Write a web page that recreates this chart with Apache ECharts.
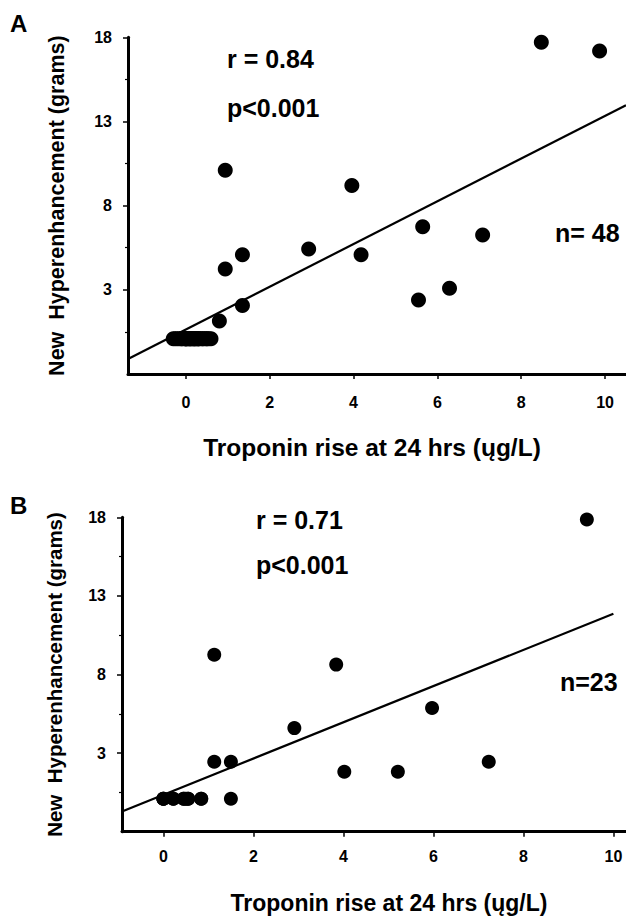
<!DOCTYPE html>
<html>
<head>
<meta charset="utf-8">
<script src="https://cdn.jsdelivr.net/npm/echarts@6/dist/echarts.min.js"></script>
<style>
  html, body { margin: 0; padding: 0; background: #fff; }
  #chart { width: 626px; height: 920px; }
</style>
</head>
<body>
<div id="chart"></div>
<script>
// ---- Data ----
// Panel A (n = 48): troponin rise (ug/L) vs new hyperenhancement (grams)
const troponinA = [8.48, 9.87, 0.94, 3.96, 5.65, 7.08, 2.93, 1.35, 4.18, 0.94, 6.29, 5.55, 1.35, 0.80,
  -0.30, -0.25, -0.20, -0.15, -0.10, -0.05, 0.00, 0.00, 0.00, 0.05, 0.10, 0.10, 0.15, 0.20, 0.20, 0.25, 0.30,
  0.30, 0.35, 0.40, 0.40, 0.45, 0.50, 0.50, 0.55, 0.60, 0.00, 0.10, 0.20, 0.30, -0.10, 0.05, 0.15, 0.25];
const hyperA = [17.70, 17.18, 10.10, 9.20, 6.75, 6.25, 5.42, 5.08, 5.08, 4.23, 3.10, 2.40, 2.07, 1.15,
  0.1, 0.1, 0.1, 0.1, 0.1, 0.1, 0.1, 0.1, 0.1, 0.1, 0.1, 0.1, 0.1, 0.1, 0.1, 0.1, 0.1,
  0.1, 0.1, 0.1, 0.1, 0.1, 0.1, 0.1, 0.1, 0.1, 0.1, 0.1, 0.1, 0.1, 0.1, 0.1, 0.1, 0.1];
const fitAx = [-1.38, 10.5];
const fitAy = [-1.11, 13.97];

// Panel B (n = 23)
const troponinB = [9.41, 1.13, 3.84, 5.97, 2.91, 1.13, 1.50, 7.23, 4.02, 5.21, 1.50,
  0.00, 0.22, 0.45, 0.55, 0.84, 0.00, 0.22, 0.45, 0.55, 0.84, 0.00, 0.50];
const hyperB = [17.86, 9.26, 8.63, 5.87, 4.59, 2.45, 2.45, 2.45, 1.81, 1.81, 0.10,
  0.10, 0.10, 0.10, 0.10, 0.10, 0.10, 0.10, 0.10, 0.10, 0.10, 0.10, 0.10];
const fitBx = [-0.92, 10.0];
const fitBy = [-0.71, 11.87];

// Tick labels
const xTickValues = [0, 2, 4, 6, 8, 10];
const yTickValues = [3, 8, 13, 18];
const yMinorTickValues = [0.5, 5.5, 10.5, 15.5];

const xTitle = 'Troponin rise at 24 hrs (ųg/L)';
const yTitle = 'New  Hyperenhancement (grams)';
const statsA = ['r = 0.84', 'p<0.001', 'n= 48'];
const statsB = ['r = 0.71', 'p<0.001', 'n=23'];

// ---- Chart ----
const FONT = '"Liberation Sans", Arial, Helvetica, sans-serif';
const zip = (xs, ys) => xs.map((x, i) => [x, ys[i]]);

function xAxisFor(gridIndex, min, max, labelMargin, nameGap, nameFont, namePad) {
  return {
    type: 'value', gridIndex, min, max,
    splitLine: { show: false },
    axisLine: { show: true, onZero: false, lineStyle: { color: '#000', width: 3 } },
    axisTick: { show: true, customValues: xTickValues, length: 5, lineStyle: { color: '#000', width: 1.5 } },
    axisLabel: { show: true, customValues: xTickValues, margin: labelMargin, color: '#000',
      fontFamily: FONT, fontWeight: 'bold', fontSize: 16 },
    name: xTitle, nameLocation: 'middle', nameGap,
    nameTextStyle: { color: '#000', fontFamily: FONT, fontWeight: 'bold', fontSize: nameFont, padding: namePad }
  };
}
function yAxisMain(gridIndex, nameGap, nameFont) {
  return {
    type: 'value', gridIndex, min: -2, max: 18, position: 'left',
    splitLine: { show: false },
    axisLine: { show: true, onZero: false, lineStyle: { color: '#000', width: 3 } },
    axisTick: { show: true, customValues: yTickValues, length: 5, lineStyle: { color: '#000', width: 1.5 } },
    axisLabel: { show: true, customValues: yTickValues, margin: 16, color: '#000',
      fontFamily: FONT, fontWeight: 'bold', fontSize: 16 },
    name: yTitle, nameLocation: 'middle', nameGap,
    nameTextStyle: { color: '#000', fontFamily: FONT, fontWeight: 'bold', fontSize: nameFont }
  };
}
function yAxisMinor(gridIndex) {
  return {
    type: 'value', gridIndex, min: -2, max: 18, position: 'left', offset: 0,
    splitLine: { show: false },
    axisLine: { show: false, onZero: false },
    axisTick: { show: true, customValues: yMinorTickValues, length: 3, lineStyle: { color: '#000', width: 1.2 } },
    axisLabel: { show: false }
  };
}
function statText(x, y, text) {
  return { type: 'text', x, y, style: { text, fill: '#000', font: 'bold 25px ' + FONT,
    textAlign: 'left', textVerticalAlign: 'middle' } };
}
function letter(x, y, text) {
  return { type: 'text', x, y, style: { text, fill: '#000', font: 'bold 24px ' + FONT,
    textAlign: 'left', textVerticalAlign: 'middle' } };
}

const chart = echarts.init(document.getElementById('chart'), null, { renderer: 'svg' });
chart.setOption({
  backgroundColor: '#fff',
  animation: false,
  grid: [
    { left: 128, top: 37.3, width: 498, height: 336.7, outerBoundsMode: 'none' },
    { left: 122, top: 517.3, width: 504, height: 314.4, outerBoundsMode: 'none' }
  ],
  xAxis: [
    xAxisFor(0, -1.38, 10.5, 20, 61, 24.5, [0, 10, 0, 0]),
    xAxisFor(1, -0.92, 10.28, 17, 60, 23, [0, 0, 0, 30])
  ],
  yAxis: [
    yAxisMain(0, 60, 21.5),
    yAxisMinor(0),
    yAxisMain(1, 57, 20.5),
    yAxisMinor(1)
  ],
  series: [
    { type: 'scatter', xAxisIndex: 0, yAxisIndex: 0, data: zip(troponinA, hyperA),
      symbol: 'circle', symbolSize: 15, itemStyle: { color: '#000', opacity: 1 }, z: 3 },
    { type: 'line', xAxisIndex: 0, yAxisIndex: 0, data: zip(fitAx, fitAy), symbol: 'none',
      lineStyle: { color: '#000', width: 2.2 }, z: 2 },
    { type: 'scatter', xAxisIndex: 1, yAxisIndex: 2, data: zip(troponinB, hyperB),
      symbol: 'circle', symbolSize: 14, itemStyle: { color: '#000', opacity: 1 }, z: 3 },
    { type: 'line', xAxisIndex: 1, yAxisIndex: 2, data: zip(fitBx, fitBy), symbol: 'none',
      lineStyle: { color: '#000', width: 2.2 }, z: 2 }
  ],
  graphic: [
    letter(10, 23.5, 'A'),
    statText(227, 58.5, statsA[0]),
    statText(227, 107.5, statsA[1]),
    statText(555, 233, statsA[2]),
    letter(10, 505, 'B'),
    statText(256, 520, statsB[0]),
    statText(256, 564.5, statsB[1]),
    statText(560, 682, statsB[2])
  ]
});
</script>
</body>
</html>
